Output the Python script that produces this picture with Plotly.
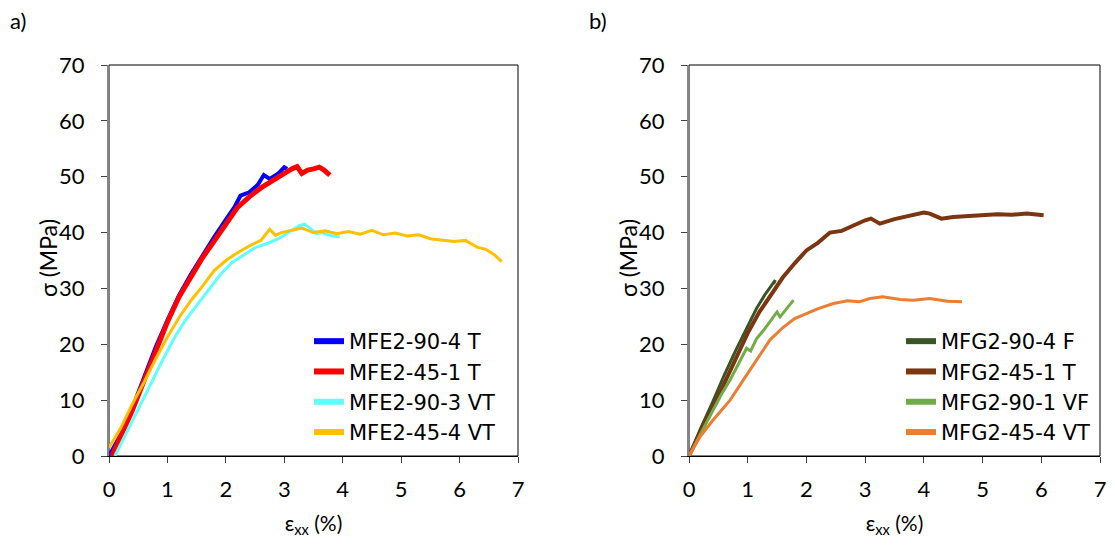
import plotly.graph_objects as go

# ---------------- data: panel a) ----------------
a_blue_x = [0.0, 0.2, 0.4, 0.6, 0.8, 1.0, 1.2, 1.4, 1.6, 1.8, 2.0, 2.15, 2.25, 2.4, 2.55, 2.65, 2.75, 2.9, 3.0, 3.05]
a_blue_y = [0.0, 3.8, 8.6, 14.0, 19.5, 24.3, 28.8, 32.5, 36.0, 39.2, 42.3, 44.6, 46.6, 47.2, 48.6, 50.3, 49.6, 50.6, 51.7, 51.4]

a_red_x = [0.05, 0.2, 0.4, 0.6, 0.8, 1.0, 1.2, 1.4, 1.6, 1.8, 2.0, 2.2, 2.4, 2.6, 2.8, 2.95, 3.05, 3.15, 3.22, 3.3, 3.4, 3.5, 3.6, 3.68, 3.74, 3.78]
a_red_y = [0.0, 3.5, 8.2, 13.5, 19.0, 24.0, 28.5, 32.0, 35.5, 38.5, 41.5, 44.5, 46.4, 48.0, 49.3, 50.4, 50.9, 51.5, 51.8, 50.6, 51.2, 51.4, 51.7, 51.2, 50.8, 50.3]

a_cyan_x = [0.1, 0.3, 0.5, 0.7, 0.9, 1.1, 1.3, 1.5, 1.7, 1.9, 2.1, 2.3, 2.5, 2.7, 2.9, 3.1, 3.25, 3.35, 3.45, 3.55, 3.65, 3.75, 3.85, 3.95]
a_cyan_y = [0.0, 4.3, 8.6, 12.6, 16.8, 20.8, 24.2, 27.0, 29.6, 32.4, 34.6, 36.0, 37.3, 38.0, 38.9, 40.2, 41.2, 41.5, 40.6, 39.8, 40.0, 39.6, 39.4, 39.2]

a_yellow_x = [0.0, 0.2, 0.4, 0.6, 0.8, 1.0, 1.2, 1.4, 1.6, 1.8, 2.0, 2.2, 2.4, 2.6, 2.75, 2.85, 2.95, 3.1, 3.3, 3.5, 3.7, 3.9, 4.1, 4.3, 4.5, 4.7, 4.9, 5.1, 5.3, 5.5, 5.7, 5.9, 6.1, 6.3, 6.45, 6.6, 6.72]
a_yellow_y = [1.5, 5.0, 9.3, 13.2, 17.4, 21.3, 24.8, 27.8, 30.4, 33.2, 35.0, 36.4, 37.6, 38.6, 40.6, 39.5, 40.0, 40.4, 40.8, 40.0, 40.3, 39.8, 40.2, 39.7, 40.4, 39.6, 39.9, 39.4, 39.6, 38.9, 38.6, 38.4, 38.6, 37.4, 37.0, 36.0, 34.8]

# ---------------- data: panel b) ----------------
b_dkgreen_x = [0.0, 0.2, 0.4, 0.6, 0.8, 1.0, 1.15, 1.3, 1.4, 1.47, 1.44]
b_dkgreen_y = [0.0, 5.0, 9.6, 14.5, 19.0, 23.3, 26.4, 29.0, 30.6, 31.5, 30.8]

b_brown_x = [0.0, 0.2, 0.4, 0.6, 0.8, 1.0, 1.2, 1.4, 1.6, 1.8, 2.0, 2.2, 2.4, 2.6, 2.8, 3.0, 3.1, 3.25, 3.5, 3.75, 4.0, 4.1, 4.3, 4.5, 4.75, 5.0, 5.25, 5.5, 5.75, 6.04]
b_brown_y = [0.0, 4.5, 8.5, 13.0, 17.5, 22.0, 25.8, 29.0, 32.0, 34.5, 36.8, 38.2, 40.0, 40.3, 41.3, 42.2, 42.5, 41.6, 42.4, 43.0, 43.6, 43.4, 42.5, 42.8, 43.0, 43.1, 43.3, 43.2, 43.4, 43.1]

b_ltgreen_x = [0.0, 0.2, 0.41, 0.55, 0.7, 0.85, 0.98, 1.05, 1.15, 1.27, 1.4, 1.5, 1.55, 1.65, 1.72, 1.78]
b_ltgreen_y = [0.0, 4.0, 8.2, 11.0, 13.6, 16.8, 19.3, 18.8, 21.0, 22.5, 24.3, 25.8, 24.9, 26.3, 27.2, 27.9]

b_orange_x = [0.0, 0.19, 0.4, 0.7, 1.0, 1.2, 1.38, 1.6, 1.8, 2.0, 2.2, 2.46, 2.7, 2.9, 3.08, 3.3, 3.6, 3.82, 4.1, 4.4, 4.65]
b_orange_y = [0.0, 3.5, 6.3, 10.0, 14.8, 18.0, 20.8, 23.0, 24.6, 25.5, 26.4, 27.3, 27.8, 27.6, 28.2, 28.5, 28.0, 27.9, 28.2, 27.7, 27.6]

names_a = ["MFE2-90-4 T", "MFE2-45-1 T", "MFE2-90-3 VT", "MFE2-45-4 VT"]
names_b = ["MFG2-90-4 F", "MFG2-45-1 T", "MFG2-90-1 VF", "MFG2-45-4 VT"]

FONT = "Lato"
LEG_FONT = "DejaVu Sans"

fig = go.Figure()

series_a = [
    (a_blue_x, a_blue_y, "#0000FF", 4),
    (a_red_x, a_red_y, "#FF0000", 5),
    (a_cyan_x, a_cyan_y, "#5FFFFF", 3),
    (a_yellow_x, a_yellow_y, "#FFC000", 3),
]
series_b = [
    (b_dkgreen_x, b_dkgreen_y, "#375623", 3),
    (b_brown_x, b_brown_y, "#7B3510", 4),
    (b_ltgreen_x, b_ltgreen_y, "#70AD47", 3),
    (b_orange_x, b_orange_y, "#ED7D31", 3),
]

for series, names, xa, ya, lg in ((series_a, names_a, "x", "y", "legend"),
                                  (series_b, names_b, "x2", "y2", "legend2")):
    for (xs, ys, c, w), n in zip(series, names):
        fig.add_trace(go.Scatter(x=xs, y=ys, mode="lines", name=n, showlegend=False,
                                 line=dict(color=c, width=w),
                                 xaxis=xa, yaxis=ya))
    for (xs, ys, c, w), n in zip(series, names):
        # legend-only entry with the thick legend line
        fig.add_trace(go.Scatter(x=[None], y=[None], mode="lines", name=n,
                                 line=dict(color=c, width=6),
                                 xaxis=xa, yaxis=ya, legend=lg))

xax = dict(range=[0, 7], dtick=1, tick0=0, showgrid=False, zeroline=False,
           showline=True, linecolor="#000000", linewidth=1, automargin=False,
           ticks="outside", ticklen=6, tickcolor="#404040",
           tickfont=dict(family=FONT, size=22, color="#000000"),
           ticklabelstandoff=8,
           title=dict(text="ε<sub>xx</sub> (%)", font=dict(family=FONT, size=21, color="#000000"), standoff=14))
yax = dict(range=[0, 70], dtick=10, tick0=0, showgrid=False, zeroline=False,
           showline=True, linecolor="#868686", linewidth=2, automargin=False,
           ticks="outside", ticklen=6, tickcolor="#404040",
           tickfont=dict(family=FONT, size=22, color="#000000"),
           ticklabelstandoff=12)

W, H = 1115, 548
xa_dom = [109 / W, 518 / W]
xb_dom = [689 / W, 1100 / W]
y_dom = [(H - 456) / H, (H - 65) / H]

leg_common = dict(xanchor="left", yanchor="top", bgcolor="rgba(0,0,0,0)",
                  font=dict(family=LEG_FONT, size=21, color="#000000"),
                  tracegroupgap=0, itemwidth=30)

fig.update_layout(
    width=W, height=H,
    margin=dict(l=0, r=0, t=0, b=0, autoexpand=False),
    paper_bgcolor="white", plot_bgcolor="white",
    xaxis=dict(domain=xa_dom, anchor="y", **xax),
    yaxis=dict(domain=y_dom, anchor="x", **yax),
    xaxis2=dict(domain=xb_dom, anchor="y2", **xax),
    yaxis2=dict(domain=y_dom, anchor="x2", **yax),
    legend=dict(x=309 / W, y=1 - 321 / H, **leg_common),
    legend2=dict(x=901 / W, y=1 - 321 / H, **leg_common),
    showlegend=True,
)

for xr, yr in (("x domain", "y domain"), ("x2 domain", "y2 domain")):
    fig.add_shape(type="rect", xref=xr, yref=yr, x0=0, x1=1, y0=0, y1=1,
                  line=dict(color="#000000", width=1), layer="below")

# y-axis titles
for xpx in (48, 628):
    fig.add_annotation(text="σ (MPa)", xref="paper", yref="paper", x=xpx / W, y=1 - 258 / H,
                       xanchor="center", yanchor="middle", textangle=-90, showarrow=False,
                       font=dict(family=FONT, size=23, color="#000000"))

fig.add_annotation(text="a)", xref="paper", yref="paper", x=8 / W, y=1 - 5 / H,
                   xanchor="left", yanchor="top", showarrow=False,
                   font=dict(family=FONT, size=22, color="#000000"))
fig.add_annotation(text="b)", xref="paper", yref="paper", x=587 / W, y=1 - 5 / H,
                   xanchor="left", yanchor="top", showarrow=False,
                   font=dict(family=FONT, size=22, color="#000000"))

fig.write_html("out.html", config={"displayModeBar": False},
               post_script="document.body.style.margin='0';document.body.style.padding='0';")
